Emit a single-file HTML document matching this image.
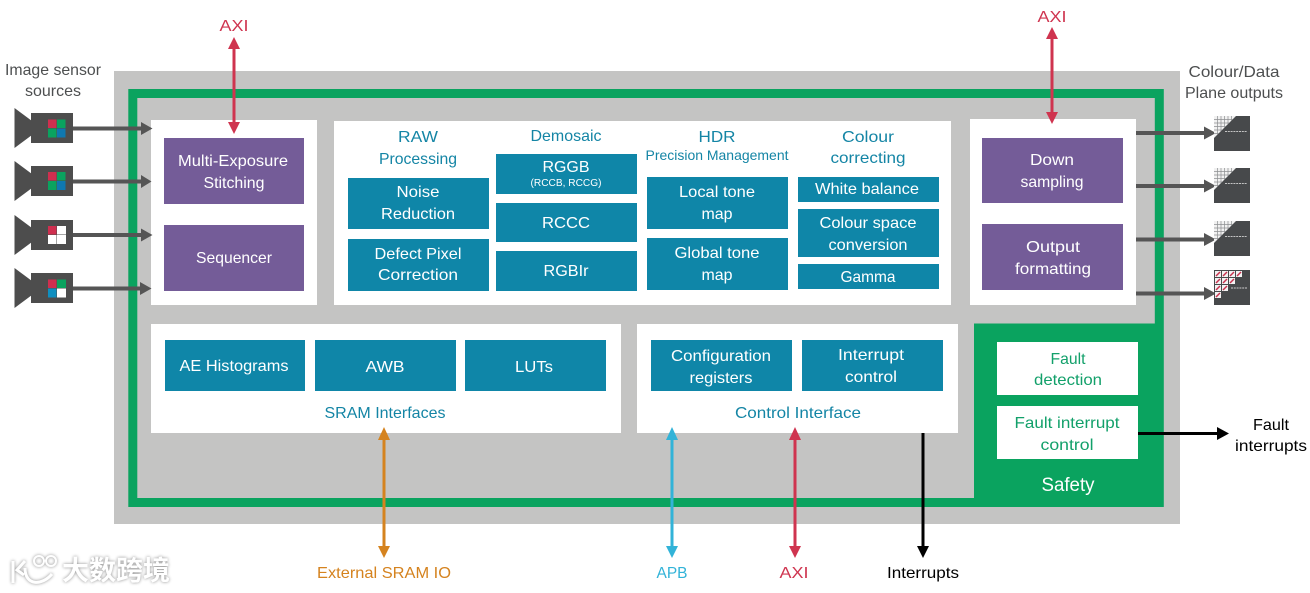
<!DOCTYPE html>
<html><head><meta charset="utf-8"><style>
html,body{margin:0;padding:0;background:#fff}
svg{display:block}
text{font-family:"Liberation Sans","Noto Sans CJK SC",sans-serif;font-size:16px;text-anchor:middle}
.w text,text.w{fill:#fff}
.t{fill:#1485a5}
.g{fill:#4d4f50}
.s{fill:#12a06a}
</style></head><body>
<svg width="1310" height="593" viewBox="0 0 1310 593" xmlns="http://www.w3.org/2000/svg">
<defs>
<g id="cam"><polygon points="14.500,-20 32,-7 32,7 14.500,20" fill="#4d4d4d"/><rect x="31" y="-15" width="42" height="30" fill="#4d4d4d"/></g>
<g id="out"><rect x="0" y="0" width="36" height="35" fill="#47494b"/><polygon points="0,0 22,0 0,22" fill="#f1f1f1"/><path d="M3.500 0V18.500M7 0V15M10.500 0V11.500M14 0V8M17.500 0V4.500M0 3.500H18.500M0 7H15M0 10.500H11.500M0 14H8M0 17.500H4.500" stroke="#8d8f91" stroke-width="0.700"/><path d="M11 15.500H33" stroke="#c4c4c4" stroke-width="1" stroke-dasharray="2 0.800"/></g>
</defs>
<rect width="1310" height="593" fill="#fff"/>
<rect x="114" y="71" width="1066" height="453" fill="#c4c4c3"/>
<rect x="132.800" y="93.500" width="1026.500" height="409" fill="none" stroke="#0aa35f" stroke-width="9"/>
<rect x="974" y="323.500" width="189.500" height="183.500" fill="#0aa35f"/>
<g fill="#fff">
<rect x="151" y="120" width="166" height="185"/>
<rect x="334" y="121" width="617" height="184"/>
<rect x="970" y="119" width="166" height="186"/>
<rect x="151" y="324" width="470" height="109"/>
<rect x="637" y="324" width="321" height="109"/>
<rect x="997" y="342" width="141" height="53"/>
<rect x="997" y="406" width="141" height="53"/>
</g>
<g fill="#745c98">
<rect x="164" y="138" width="140" height="66"/>
<rect x="164" y="225" width="140" height="66"/>
<rect x="982" y="138" width="141" height="65"/>
<rect x="982" y="224" width="141" height="66"/>
</g>
<g fill="#0f86a8">
<rect x="348" y="178" width="141" height="51"/>
<rect x="348" y="239" width="141" height="52"/>
<rect x="496" y="154" width="141" height="40"/>
<rect x="496" y="203" width="141" height="39"/>
<rect x="496" y="251" width="141" height="40"/>
<rect x="647" y="177" width="141" height="52"/>
<rect x="647" y="238" width="141" height="52"/>
<rect x="798" y="177" width="141" height="25"/>
<rect x="798" y="209" width="141" height="48"/>
<rect x="798" y="264" width="141" height="25"/>
<rect x="165" y="340" width="140" height="51"/>
<rect x="315" y="340" width="141" height="51"/>
<rect x="465" y="340" width="141" height="51"/>
<rect x="651" y="340" width="141" height="51"/>
<rect x="802" y="340" width="141" height="51"/>
</g>

<!-- cameras -->
<use href="#cam" y="128"/>
<use href="#cam" y="181"/>
<use href="#cam" y="235"/>
<use href="#cam" y="288"/>
<g>
<rect x="48" y="119.500" width="8.500" height="8.500" fill="#cf2f4f"/><rect x="57" y="119.500" width="8.500" height="8.500" fill="#0aa35f"/><rect x="48" y="128.500" width="8.500" height="9" fill="#0aa35f"/><rect x="57" y="128.500" width="8.500" height="9" fill="#0f78b0"/>
<rect x="48" y="172" width="8.500" height="8.500" fill="#cf2f4f"/><rect x="57" y="172" width="8.500" height="8.500" fill="#0aa35f"/><rect x="48" y="181" width="8.500" height="9" fill="#0aa35f"/><rect x="57" y="181" width="8.500" height="9" fill="#0f78b0"/>
<rect x="48" y="226" width="8.500" height="8.500" fill="#cf2f4f"/><rect x="57" y="226" width="9" height="8.500" fill="#fff"/><rect x="48" y="235" width="8.500" height="9" fill="#fff"/><rect x="57" y="235" width="9" height="9" fill="#fff"/>
<rect x="48" y="279.500" width="8.500" height="8.500" fill="#cf2f4f"/><rect x="57" y="279.500" width="9" height="8.500" fill="#0aa35f"/><rect x="48" y="288.500" width="8.500" height="9" fill="#0f8fc0"/><rect x="57" y="288.500" width="9" height="9" fill="#fff"/>
</g>
<!-- grey arrows -->
<g stroke="#555" stroke-width="4">
<path d="M73 128.500H142M73 181.500H142M73 235H142M73 288.500H142"/>
<path d="M1136 133H1206M1136 186H1206M1136 239.500H1206M1136 293.500H1206"/>
</g>
<g fill="#555">
<polygon points="141,122 152.500,128.500 141,135"/><polygon points="141,175 151.500,181.500 141,188"/><polygon points="141,228.500 152.500,235 141,241.500"/><polygon points="140,282 151.500,288.500 140,295"/>
<polygon points="1204,126.500 1216,133 1204,139.500"/><polygon points="1204,179.500 1216,186 1204,192.500"/><polygon points="1204,233 1216,239.500 1204,246"/><polygon points="1204,287 1216,293.500 1204,300"/>
</g>
<!-- outputs -->
<use href="#out" x="1214" y="116"/>
<use href="#out" x="1214" y="168"/>
<use href="#out" x="1214" y="221"/>
<g transform="translate(1214,270)"><rect width="36" height="35" fill="#47494b"/>
<g fill="#f2f2f2"><rect x="1" y="1" width="6" height="6"/><rect x="8" y="1" width="6" height="6"/><rect x="15" y="1" width="6" height="6"/><rect x="22" y="1" width="6" height="6"/><rect x="1" y="8" width="6" height="6"/><rect x="8" y="8" width="6" height="6"/><rect x="15" y="8" width="6" height="6"/><rect x="1" y="15" width="6" height="6"/><rect x="8" y="15" width="6" height="6"/><rect x="1" y="22" width="6" height="6"/></g>
<path d="M2 6L6 2M9 6L13 2M16 6L20 2M23 6L27 2M2 13L6 9M9 13L13 9M16 13L20 9M2 20L6 16M9 20L13 16M2 27L6 23" stroke="#c8324f" stroke-width="1.500"/><path d="M17 18H33" stroke="#ccc" stroke-dasharray="2 0.800"/></g>

<!-- coloured arrows -->
<g stroke="#cf344f" stroke-width="3"><path d="M234 46V126"/><path d="M1052 36V116"/><path d="M795 436V548"/></g>
<g fill="#cf344f">
<polygon points="234,37 228,49 240,49"/><polygon points="234,134 228,122 240,122"/>
<polygon points="1052,27 1046,39 1058,39"/><polygon points="1052,124 1046,112 1058,112"/>
<polygon points="795,427 789,440 801,440"/><polygon points="795,558 789,546 801,546"/>
</g>
<path d="M384 436V548" stroke="#d5831f" stroke-width="3"/>
<polygon points="384,427 378,440 390,440" fill="#d5831f"/><polygon points="384,558 378,546 390,546" fill="#d5831f"/>
<path d="M672 436V548" stroke="#32b3d8" stroke-width="3"/>
<polygon points="672,427 666,440 678,440" fill="#32b3d8"/><polygon points="672,558 666,546 678,546" fill="#32b3d8"/>
<path d="M923 433V548" stroke="#000" stroke-width="3"/>
<polygon points="923,558 917,546 929,546" fill="#000"/>
<path d="M1138 433.500H1218" stroke="#000" stroke-width="3"/>
<polygon points="1229,433.500 1217,427 1217,440" fill="#000"/>

<!-- labels -->
<g class="g">
<text x="53" y="75" textLength="96" lengthAdjust="spacingAndGlyphs">Image sensor</text>
<text x="53" y="96" textLength="56" lengthAdjust="spacingAndGlyphs">sources</text>
<text x="1234" y="77" textLength="91" lengthAdjust="spacingAndGlyphs">Colour/Data</text>
<text x="1234" y="98" textLength="98" lengthAdjust="spacingAndGlyphs">Plane outputs</text>
</g>
<text x="234" y="31" fill="#cf344f" textLength="29" lengthAdjust="spacingAndGlyphs">AXI</text>
<text x="1052" y="22" fill="#cf344f" textLength="29" lengthAdjust="spacingAndGlyphs">AXI</text>
<text x="794" y="578" fill="#cf344f" textLength="29" lengthAdjust="spacingAndGlyphs">AXI</text>
<text x="384" y="578" fill="#d5831f" textLength="134" lengthAdjust="spacingAndGlyphs">External SRAM IO</text>
<text x="672" y="578" fill="#32b3d8" textLength="31" lengthAdjust="spacingAndGlyphs">APB</text>
<text x="923" y="578" fill="#000" textLength="72" lengthAdjust="spacingAndGlyphs">Interrupts</text>
<text x="1271" y="430" fill="#000" textLength="36" lengthAdjust="spacingAndGlyphs">Fault</text>
<text x="1271" y="451" fill="#000" textLength="72" lengthAdjust="spacingAndGlyphs">interrupts</text>

<g class="w">
<text x="233" y="166" textLength="110" lengthAdjust="spacingAndGlyphs">Multi-Exposure</text>
<text x="234" y="188" textLength="61" lengthAdjust="spacingAndGlyphs">Stitching</text>
<text x="234" y="263" textLength="76" lengthAdjust="spacingAndGlyphs">Sequencer</text>
<text x="1052" y="165" textLength="44" lengthAdjust="spacingAndGlyphs">Down</text>
<text x="1052" y="187" textLength="63" lengthAdjust="spacingAndGlyphs">sampling</text>
<text x="1053" y="252" textLength="54" lengthAdjust="spacingAndGlyphs">Output</text>
<text x="1053" y="274" textLength="76" lengthAdjust="spacingAndGlyphs">formatting</text>
<text x="418" y="197" textLength="43" lengthAdjust="spacingAndGlyphs">Noise</text>
<text x="418" y="219" textLength="74" lengthAdjust="spacingAndGlyphs">Reduction</text>
<text x="418" y="259" textLength="87" lengthAdjust="spacingAndGlyphs">Defect Pixel</text>
<text x="418" y="280" textLength="80" lengthAdjust="spacingAndGlyphs">Correction</text>
<text x="566" y="172" textLength="47" lengthAdjust="spacingAndGlyphs">RGGB</text>
<text x="566" y="186" style="font-size:10px" textLength="71" lengthAdjust="spacingAndGlyphs">(RCCB, RCCG)</text>
<text x="566" y="228" textLength="48" lengthAdjust="spacingAndGlyphs">RCCC</text>
<text x="566" y="276" textLength="45" lengthAdjust="spacingAndGlyphs">RGBIr</text>
<text x="717" y="197" textLength="76" lengthAdjust="spacingAndGlyphs">Local tone</text>
<text x="717" y="219" textLength="31" lengthAdjust="spacingAndGlyphs">map</text>
<text x="717" y="258" textLength="85" lengthAdjust="spacingAndGlyphs">Global tone</text>
<text x="717" y="280" textLength="31" lengthAdjust="spacingAndGlyphs">map</text>
<text x="867" y="194" textLength="104" lengthAdjust="spacingAndGlyphs">White balance</text>
<text x="868" y="228" textLength="97" lengthAdjust="spacingAndGlyphs">Colour space</text>
<text x="868" y="250" textLength="79" lengthAdjust="spacingAndGlyphs">conversion</text>
<text x="868" y="282" textLength="55" lengthAdjust="spacingAndGlyphs">Gamma</text>
<text x="234" y="371" textLength="109" lengthAdjust="spacingAndGlyphs">AE Histograms</text>
<text x="385" y="372" textLength="39" lengthAdjust="spacingAndGlyphs">AWB</text>
<text x="534" y="372" textLength="38" lengthAdjust="spacingAndGlyphs">LUTs</text>
<text x="721" y="361" textLength="100" lengthAdjust="spacingAndGlyphs">Configuration</text>
<text x="721" y="383" textLength="63" lengthAdjust="spacingAndGlyphs">registers</text>
<text x="871" y="360" textLength="66" lengthAdjust="spacingAndGlyphs">Interrupt</text>
<text x="871" y="382" textLength="52" lengthAdjust="spacingAndGlyphs">control</text>
<text x="1068" y="491" style="font-size:19px" textLength="53" lengthAdjust="spacingAndGlyphs">Safety</text>
</g>
<g class="t">
<text x="418" y="142" textLength="40" lengthAdjust="spacingAndGlyphs">RAW</text>
<text x="418" y="164" textLength="78" lengthAdjust="spacingAndGlyphs">Processing</text>
<text x="566" y="141" textLength="71" lengthAdjust="spacingAndGlyphs">Demosaic</text>
<text x="717" y="142" textLength="37" lengthAdjust="spacingAndGlyphs">HDR</text>
<text x="717" y="160" style="font-size:14px" textLength="143" lengthAdjust="spacingAndGlyphs">Precision Management</text>
<text x="868" y="142" textLength="52" lengthAdjust="spacingAndGlyphs">Colour</text>
<text x="868" y="163" textLength="75" lengthAdjust="spacingAndGlyphs">correcting</text>
<text x="385" y="418" textLength="121" lengthAdjust="spacingAndGlyphs">SRAM Interfaces</text>
<text x="798" y="418" textLength="126" lengthAdjust="spacingAndGlyphs">Control Interface</text>
</g>
<g class="s">
<text x="1068" y="364" textLength="35" lengthAdjust="spacingAndGlyphs">Fault</text>
<text x="1068" y="385" textLength="68" lengthAdjust="spacingAndGlyphs">detection</text>
<text x="1067" y="428" textLength="105" lengthAdjust="spacingAndGlyphs">Fault interrupt</text>
<text x="1067" y="450" textLength="53" lengthAdjust="spacingAndGlyphs">control</text>
</g>

<!-- watermark -->
<g style="filter:drop-shadow(0 0 1.500px #8a8a8a)">
<path d="M13 561V583M25 561L17 570L24 575" fill="none" stroke="#fff" stroke-width="3"/>
<path d="M25 568C25 586 42 586 52 574" fill="none" stroke="#fff" stroke-width="3"/>
<circle cx="39" cy="561" r="5" fill="none" stroke="#fff" stroke-width="2"/><circle cx="51" cy="561" r="5" fill="none" stroke="#fff" stroke-width="2"/>
<text x="116" y="580" fill="#fff" textLength="108" lengthAdjust="spacingAndGlyphs" style="font-size:27px;font-weight:bold;font-family:'Noto Sans CJK SC',sans-serif">大数跨境</text>
</g>
</svg>
</body></html>
